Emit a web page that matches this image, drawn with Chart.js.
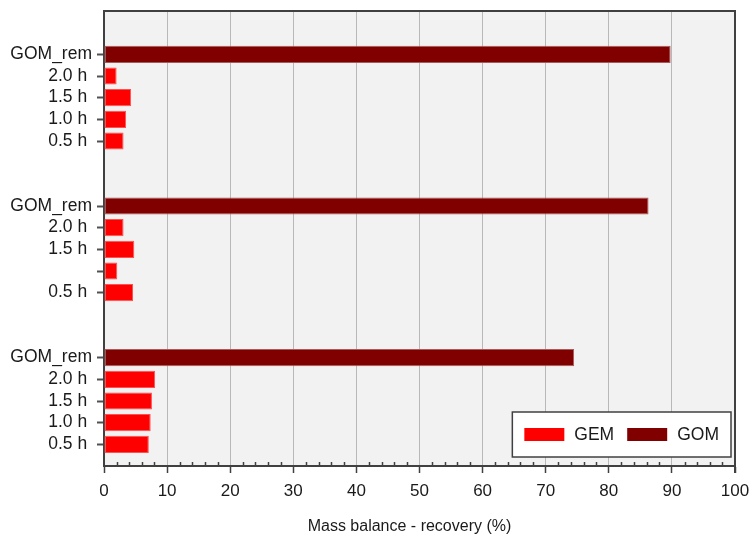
<!DOCTYPE html>
<html>
<head>
<meta charset="utf-8">
<script src="https://cdn.jsdelivr.net/npm/chart.js@4/dist/chart.umd.min.js"></script>
<style>
  html, body { margin: 0; padding: 0; background: #ffffff; }
  #chart { display: block; }
</style>
</head>
<body>
<canvas id="chart" width="755" height="537"></canvas>
<script>
// Row labels, top to bottom. Empty strings with no values are spacer rows between the three runs.
const rowLabels = [
  '', '',
  'GOM_rem', '2.0 h ', '1.5 h ', '1.0 h ', '0.5 h ',
  '', '',
  'GOM_rem', '2.0 h ', '1.5 h ', '', '0.5 h ',
  '', '',
  'GOM_rem', '2.0 h ', '1.5 h ', '1.0 h ', '0.5 h ',
  ''
];

// Mass balance recovery (%) of gaseous elemental mercury per sampling interval
const gemRecovery = [
  null, null,
  null, 2.0, 4.3, 3.5, 3.1,
  null, null,
  null, 3.1, 4.8, 2.1, 4.6,
  null, null,
  null, 8.1, 7.6, 7.4, 7.1,
  null
];

// Remaining gaseous oxidised mercury (%)
const gomRecovery = [
  null, null,
  89.8, null, null, null, null,
  null, null,
  86.3, null, null, null, null,
  null, null,
  74.5, null, null, null, null,
  null
];

const xTicks = { min: 0, max: 100, major: 10, minor: 2 };
const xTitle = 'Mass balance - recovery (%)';

const FONT = "'Liberation Sans', Arial, sans-serif";
const AXIS_DARK = '#404040';

const hasData = i => gemRecovery[i] != null || gomRecovery[i] != null;

// Plot background, frame, inner minor ticks, axis title and the boxed legend
const framePlugin = {
  id: 'frame',
  beforeDraw(chart) {
    const { ctx, chartArea: a } = chart;
    ctx.save();
    ctx.fillStyle = '#f2f2f2';
    ctx.fillRect(a.left, a.top, a.right - a.left, a.bottom - a.top);
    ctx.restore();
  },
  afterDraw(chart) {
    const { ctx, chartArea: a } = chart;
    const xs = chart.scales.x;
    ctx.save();
    // top and right frame
    ctx.strokeStyle = AXIS_DARK;
    ctx.lineWidth = 2;
    ctx.beginPath();
    ctx.moveTo(a.left, a.top);
    ctx.lineTo(a.right, a.top);
    ctx.lineTo(a.right, a.bottom + 7);
    ctx.stroke();

    // minor ticks pointing into the plot
    ctx.lineWidth = 1.5;
    ctx.beginPath();
    xs.ticks.forEach(t => {
      if (t.value % xTicks.major !== 0) {
        const px = Math.round(xs.getPixelForValue(t.value)) + 0.5;
        ctx.moveTo(px, a.bottom);
        ctx.lineTo(px, a.bottom - 4);
      }
    });
    ctx.stroke();

    // x axis title, sitting slightly left of the plot centre
    ctx.font = '16px ' + FONT;
    ctx.fillStyle = '#1a1a1a';
    ctx.textAlign = 'center';
    ctx.textBaseline = 'alphabetic';
    ctx.fillText(xTitle, (a.left + a.right) / 2 - 10, 531);

    // legend box
    ctx.textAlign = 'left';
    ctx.font = '17.5px ' + FONT;
    ctx.textBaseline = 'middle';
    const sw = 40, sh = 13, gapText = 10, gapItem = 13, padX = 12;
    const items = chart.data.datasets.map(d => ({ label: d.label, color: d.backgroundColor }));
    let w = padX * 2;
    items.forEach((it, i) => {
      w += sw + gapText + ctx.measureText(it.label).width + (i < items.length - 1 ? gapItem : 0);
    });
    const h = 45;
    const right = a.right - 4, bottom = a.bottom - 9;
    const left = right - w, top = bottom - h;
    ctx.fillStyle = '#ffffff';
    ctx.fillRect(left, top, w, h);
    ctx.strokeStyle = AXIS_DARK;
    ctx.lineWidth = 1.5;
    ctx.strokeRect(left, top, w, h);
    let x = left + padX;
    const cy = top + h / 2;
    items.forEach(it => {
      ctx.fillStyle = it.color;
      ctx.fillRect(x, cy - sh / 2, sw, sh);
      x += sw + gapText;
      ctx.fillStyle = '#1a1a1a';
      ctx.fillText(it.label, x, cy + 1);
      x += ctx.measureText(it.label).width + gapItem;
    });
    ctx.restore();
  }
};

new Chart(document.getElementById('chart'), {
  type: 'bar',
  data: {
    labels: rowLabels,
    datasets: [
      {
        label: 'GEM',
        data: gemRecovery,
        backgroundColor: '#ff0000',
        borderColor: '#ff5050',
        borderWidth: 1,
        borderSkipped: false
      },
      {
        label: 'GOM',
        data: gomRecovery,
        backgroundColor: '#800000',
        borderColor: '#a85a5a',
        borderWidth: 1,
        borderSkipped: false
      }
    ]
  },
  options: {
    indexAxis: 'y',
    responsive: false,
    animation: false,
    devicePixelRatio: 1,
    grouped: false,
    categoryPercentage: 1,
    barPercentage: 0.79,
    layout: { padding: { left: 0, right: 20, top: 11, bottom: 0 } },
    plugins: {
      legend: { display: false },
      tooltip: { enabled: false }
    },
    scales: {
      x: {
        type: 'linear',
        position: 'bottom',
        min: xTicks.min,
        max: xTicks.max,
        afterFit(scale) {
          scale.height = 71;
          scale.paddingLeft = 0;
          scale.paddingRight = 0;
        },
        ticks: {
          stepSize: xTicks.minor,
          autoSkip: false,
          maxRotation: 0,
          padding: 8,
          color: '#1a1a1a',
          font: { family: FONT, size: 17 },
          callback: v => (v % xTicks.major === 0 ? String(v) : '')
        },
        grid: {
          drawOnChartArea: true,
          drawTicks: true,
          tickLength: 7,
          lineWidth: 1,
          color: ctx => {
            const v = ctx.tick && ctx.tick.value;
            return (v % xTicks.major === 0 && v !== xTicks.min && v !== xTicks.max) ? '#b8b8b8' : 'rgba(0,0,0,0)';
          },
          tickColor: ctx => {
            const v = ctx.tick && ctx.tick.value;
            return v % xTicks.major === 0 ? AXIS_DARK : 'rgba(0,0,0,0)';
          },
          tickWidth: 1.5
        },
        border: { display: true, color: AXIS_DARK, width: 2 },
        title: { display: false }
      },
      y: {
        type: 'category',
        offset: false,
        afterFit(scale) {
          scale.width = 104;
          scale.paddingTop = 0;
          scale.paddingBottom = 0;
        },
        ticks: {
          autoSkip: false,
          padding: 5,
          color: '#1a1a1a',
          font: { family: FONT, size: 17.5 }
        },
        grid: {
          offset: false,
          drawOnChartArea: false,
          drawTicks: true,
          tickLength: 7,
          tickWidth: 2,
          tickColor: ctx => (hasData(ctx.index) ? '#505050' : 'rgba(0,0,0,0)')
        },
        border: { display: true, color: AXIS_DARK, width: 2 }
      }
    }
  },
  plugins: [framePlugin]
});
</script>
</body>
</html>
